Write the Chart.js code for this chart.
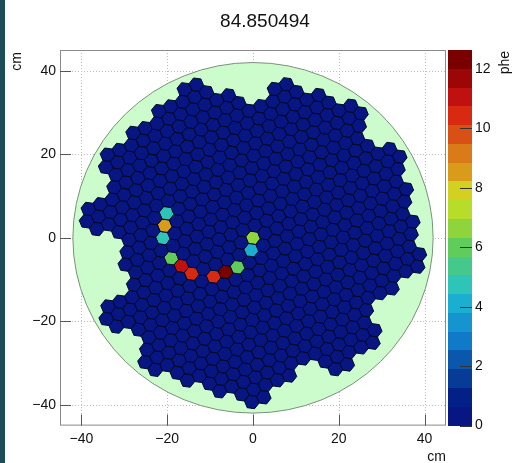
<!DOCTYPE html>
<html>
<head>
<meta charset="utf-8">
<script src="https://cdn.jsdelivr.net/npm/chart.js@4.4.0/dist/chart.umd.min.js"></script>
<style>
  html, body { margin: 0; padding: 0; background: #fff; }
  #wrap { position: relative; width: 513px; height: 463px; }
  #edge { position: absolute; left: 0; top: 0; width: 5px; height: 463px; background: #1d4d5b; }
</style>
</head>
<body>
<div id="wrap"><canvas id="cam" width="513" height="463"></canvas><div id="edge"></div></div>
<script>
// ========================================
// DATA
// ========================================
const title = '84.850494';
const xTicks = [-40, -20, 0, 20, 40];
const yTicks = [-40, -20, 0, 20, 40];
const zTicks = [0, 2, 4, 6, 8, 10, 12];
const zMax = 12.64;

// pixels with signal (lattice index n = up the column, m = along 30deg) and phe
const hitN   = [0, -1, 5, 4, 3, 1, 0, -1, -2, -2, -2];
const hitM   = [0, 0, -8, -8, -8, -7, -6, -5, -3, -2, -1];
const hitPhe = [6.7, 4.1, 4.7, 8.5, 4.7, 6.0, 11.0, 10.4, 10.4, 12.6, 6.0];

// colour bands of the palette, from 0 up to zMax
const bandColors = ['#071682', '#022088', '#063c98', '#0a58ac', '#107ac8', '#1694d0', '#1aaed0',
    '#2ec4b8', '#44c88c', '#60cc5c', '#90d43c', '#b8dc2a', '#d4d022', '#d89c1a', '#da7a18',
    '#d85014', '#d82a10', '#c01010', '#9c0606', '#7a0000'];

// ========================================
// CAMERA GEOMETRY
// ========================================
const pitch = 3.0;          // cm between pixel centres
const rotDeg = -8;          // camera rotation
const mirrorR = 42;         // light green disc
const camR = 37;            // 7-pixel modules whose centre is inside this radius
// modules (p, q) inside camR that are not mounted
const missingModules = [[5, -1], [-2, 5], [-3, 5], [-1, -4], [-4, -1]];

const th = rotDeg * Math.PI / 180;
function rot(x, y) {
    return [x * Math.cos(th) - y * Math.sin(th), x * Math.sin(th) + y * Math.cos(th)];
}
const A = rot(0, pitch);
const B = rot(pitch * Math.sqrt(3) / 2, pitch / 2);
function lat(n, m) {
    return [n * A[0] + m * B[0], n * A[1] + m * B[1]];
}

const flower = [[0, 0], [1, 0], [0, 1], [-1, 1], [-1, 0], [0, -1], [1, -1]];
const hitMap = {};
hitN.forEach((n, i) => { hitMap[n + ',' + hitM[i]] = hitPhe[i]; });
const skip = new Set(missingModules.map(t => t[0] + ',' + t[1]));

const pixels = [];
for (let p = -8; p <= 8; p++) {
    for (let q = -8; q <= 8; q++) {
        if (skip.has(p + ',' + q)) continue;
        const n0 = 3 * p + 2 * q, m0 = -p - 3 * q;
        const c = lat(n0, m0);
        if (Math.hypot(c[0], c[1]) > camR) continue;
        flower.forEach(f => {
            const n = n0 + f[0], m = m0 + f[1];
            const xy = lat(n, m);
            pixels.push({ x: xy[0], y: xy[1], v: hitMap[n + ',' + m] || 0 });
        });
    }
}

function colorFor(v) {
    let k = Math.floor(v / zMax * bandColors.length);
    k = Math.max(0, Math.min(bandColors.length - 1, k));
    return bandColors[k];
}

const fontFam = '"Liberation Sans", Arial, sans-serif';
const minus = v => String(v).replace('-', '\u2212');

// ========================================
// DRAWING PLUGIN
// ========================================
const cameraPlugin = {
    id: 'camera',
    beforeDatasetsDraw(chart) {
        const { ctx, chartArea: a, scales: { x, y } } = chart;
        ctx.save();
        // dotted grid
        ctx.strokeStyle = '#bdbdbd';
        ctx.lineWidth = 1;
        ctx.setLineDash([1, 2]);
        xTicks.forEach(v => {
            const px = Math.round(x.getPixelForValue(v)) + 0.5;
            ctx.beginPath(); ctx.moveTo(px, a.top); ctx.lineTo(px, a.bottom); ctx.stroke();
        });
        yTicks.forEach(v => {
            const py = Math.round(y.getPixelForValue(v)) + 0.5;
            ctx.beginPath(); ctx.moveTo(a.left, py); ctx.lineTo(a.right, py); ctx.stroke();
        });
        ctx.setLineDash([]);

        // disc
        const cx = x.getPixelForValue(0), cy = y.getPixelForValue(0);
        const rx = x.getPixelForValue(mirrorR) - cx, ry = cy - y.getPixelForValue(mirrorR);
        ctx.beginPath();
        ctx.ellipse(cx, cy, rx, ry, 0, 0, Math.PI * 2);
        ctx.fillStyle = '#ccfccc';
        ctx.fill();
        ctx.strokeStyle = '#7a907a';
        ctx.stroke();

        // hexagonal pixels
        const hr = pitch / Math.sqrt(3);
        const pts = chart.data.datasets[0].data;
        ctx.lineWidth = 1;
        ctx.strokeStyle = '#000628';
        pts.forEach(p => {
            ctx.beginPath();
            for (let k = 0; k < 6; k++) {
                const ang = th + k * Math.PI / 3;
                const vx = x.getPixelForValue(p.x + hr * Math.cos(ang));
                const vy = y.getPixelForValue(p.y + hr * Math.sin(ang));
                if (k === 0) ctx.moveTo(vx, vy); else ctx.lineTo(vx, vy);
            }
            ctx.closePath();
            ctx.fillStyle = colorFor(p.v);
            ctx.fill();
            ctx.stroke();
        });
        ctx.restore();
    },
    afterDraw(chart) {
        const { ctx, chartArea: a, scales: { x, y, z } } = chart;
        ctx.save();
        // frame
        ctx.strokeStyle = '#8a8a8a';
        ctx.lineWidth = 1;
        ctx.strokeRect(a.left + 0.5, a.top + 0.5, a.right - a.left - 1, a.bottom - a.top - 1);
        // ticks inside frame
        ctx.strokeStyle = '#555';
        xTicks.forEach(v => {
            const px = Math.round(x.getPixelForValue(v)) + 0.5;
            ctx.beginPath(); ctx.moveTo(px, a.bottom); ctx.lineTo(px, a.bottom - 11); ctx.stroke();
        });
        yTicks.forEach(v => {
            const py = Math.round(y.getPixelForValue(v)) + 0.5;
            ctx.beginPath(); ctx.moveTo(a.left, py); ctx.lineTo(a.left + 11, py); ctx.stroke();
        });

        // colour bar
        const bx0 = a.right + 2, bx1 = a.right + 26;
        bandColors.forEach((c, k) => {
            const lo = z.getPixelForValue(k * zMax / bandColors.length);
            const hi = z.getPixelForValue((k + 1) * zMax / bandColors.length);
            ctx.fillStyle = c;
            ctx.fillRect(bx0, Math.round(hi), bx1 - bx0, Math.round(lo) - Math.round(hi));
        });
        ctx.strokeStyle = '#333';
        zTicks.forEach(v => {
            const py = Math.round(z.getPixelForValue(v)) + 0.5;
            ctx.beginPath(); ctx.moveTo(bx1, py); ctx.lineTo(bx1 - 12, py); ctx.stroke();
        });

        // texts
        ctx.fillStyle = '#111';
        ctx.font = '19px ' + fontFam;
        ctx.textAlign = 'center';
        ctx.textBaseline = 'alphabetic';
        ctx.fillText(title, 265, 27);

        ctx.font = '14px ' + fontFam;
        ctx.textAlign = 'right';
        ctx.fillText('cm', a.right, 461);

        ctx.save();
        ctx.translate(21, a.top + 2);
        ctx.rotate(-Math.PI / 2);
        ctx.fillText('cm', 0, 0);
        ctx.restore();

        ctx.save();
        ctx.translate(509, a.top + 1);
        ctx.rotate(-Math.PI / 2);
        ctx.fillText('phe', 0, 0);
        ctx.restore();
        ctx.restore();
    }
};

// ========================================
// CHART
// ========================================
const tickFont = { family: fontFam, size: 14 };

new Chart(document.getElementById('cam'), {
    type: 'scatter',
    data: {
        datasets: [{
            data: pixels,
            pointRadius: 0,
            pointHoverRadius: 0
        }]
    },
    options: {
        responsive: false,
        animation: false,
        devicePixelRatio: 1,
        layout: { padding: { top: 50, left: 0, right: 0, bottom: 0 } },
        plugins: { legend: { display: false }, tooltip: { enabled: false } },
        scales: {
            x: {
                type: 'linear', position: 'bottom', min: -45, max: 45,
                afterBuildTicks: s => { s.ticks = xTicks.map(v => ({ value: v })); },
                afterFit: s => { s.height = 33; },
                grid: { display: false, drawTicks: false },
                border: { display: false },
                ticks: { font: tickFont, color: '#111', padding: 5, maxRotation: 0, callback: minus }
            },
            y: {
                type: 'linear', position: 'left', min: -45, max: 45,
                afterBuildTicks: s => { s.ticks = yTicks.map(v => ({ value: v })); },
                afterFit: s => { s.width = 60; },
                grid: { display: false, drawTicks: false },
                border: { display: false },
                ticks: { font: tickFont, color: '#111', padding: 4, callback: minus }
            },
            z: {
                type: 'linear', position: 'right', min: 0, max: zMax,
                afterBuildTicks: s => { s.ticks = zTicks.map(v => ({ value: v })); },
                afterFit: s => { s.width = 67; },
                grid: { display: false, drawTicks: false },
                border: { display: false },
                ticks: { font: tickFont, color: '#111', padding: 29 }
            }
        }
    },
    plugins: [cameraPlugin]
});
</script>
</body>
</html>
